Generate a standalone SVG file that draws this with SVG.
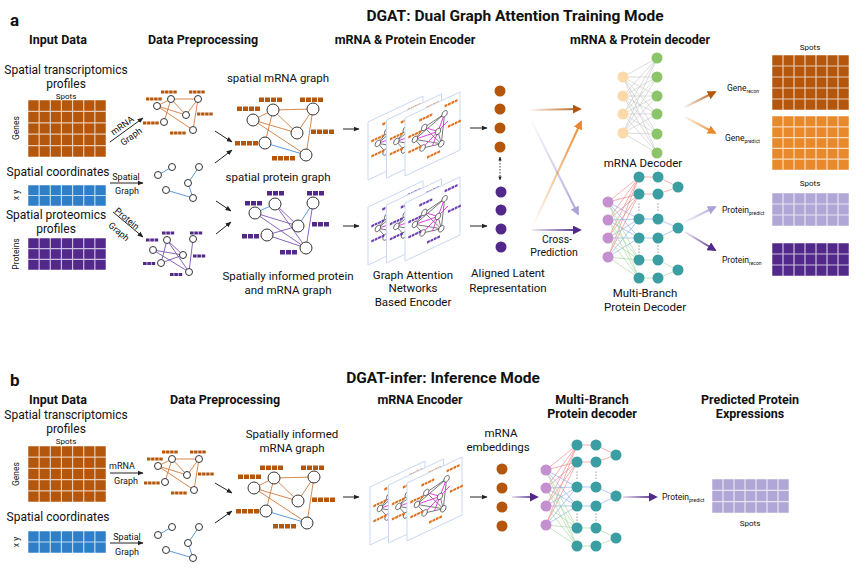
<svg xmlns="http://www.w3.org/2000/svg" width="865" height="571" viewBox="0 0 865 571">
<style>
text{font-family:Roboto,"Liberation Sans",Arial,sans-serif;fill:#111}
.p{font-weight:700;font-size:17px}
.t{font-weight:700;font-size:15.5px;text-anchor:middle}
.h{font-weight:700;font-size:12.5px;text-anchor:middle}
.l{font-size:12px;text-anchor:middle}
.m{font-size:11.5px;text-anchor:middle}
.s{font-size:8px;text-anchor:middle}
.g{font-size:9px;text-anchor:middle}
.r{font-size:8.5px;text-anchor:middle}
.o{font-size:8.5px}
.sub{font-size:5px}
.nd{fill:#fff;stroke:#333;stroke-width:1}
.eo{stroke:#d27b3c;stroke-width:.9;fill:none}
.eb{stroke:#4a8fd8;stroke-width:.9;fill:none}
.ep{stroke:#7c55b6;stroke-width:.9;fill:none}
.ar{stroke:#222;stroke-width:1;fill:none;marker-end:url(#ah)}
.card{fill:#fff;stroke:#c9d8f3;stroke-width:1;vector-effect:non-scaling-stroke}
.ns{vector-effect:non-scaling-stroke}
.cn{fill:#fff;stroke:#444;stroke-width:.8;vector-effect:non-scaling-stroke}
.ca{stroke-width:2;fill:none}
</style>
<defs>
<marker id="ah" viewBox="0 0 10 10" refX="9" refY="5" markerWidth="6" markerHeight="6" orient="auto" markerUnits="userSpaceOnUse"><path d="M0,1L10,5L0,9z" fill="#222"/></marker>
<marker id="ahs" viewBox="0 0 10 10" refX="9" refY="5" markerWidth="4" markerHeight="4" orient="auto-start-reverse" markerUnits="userSpaceOnUse"><path d="M0,1L10,5L0,9z" fill="#222"/></marker>
<marker id="mdo" viewBox="0 0 10 10" refX="8" refY="5" markerWidth="9" markerHeight="9" orient="auto" markerUnits="userSpaceOnUse"><path d="M0,0L10,5L0,10z" fill="#b4560c"/></marker>
<marker id="mo" viewBox="0 0 10 10" refX="8" refY="5" markerWidth="9" markerHeight="9" orient="auto" markerUnits="userSpaceOnUse"><path d="M0,0L10,5L0,10z" fill="#e8892c"/></marker>
<marker id="mla" viewBox="0 0 10 10" refX="8" refY="5" markerWidth="9" markerHeight="9" orient="auto" markerUnits="userSpaceOnUse"><path d="M0,0L10,5L0,10z" fill="#aca2d8"/></marker>
<marker id="mdp" viewBox="0 0 10 10" refX="8" refY="5" markerWidth="9" markerHeight="9" orient="auto" markerUnits="userSpaceOnUse"><path d="M0,0L10,5L0,10z" fill="#52288a"/></marker>
<linearGradient id="gdo1" gradientUnits="userSpaceOnUse" x1="528" y1="110" x2="580" y2="109"><stop offset="0" stop-color="#b4560c" stop-opacity="0"/><stop offset="1" stop-color="#b4560c"/></linearGradient>
<linearGradient id="gla1" gradientUnits="userSpaceOnUse" x1="530" y1="118" x2="578" y2="214"><stop offset="0" stop-color="#aca2d8" stop-opacity="0"/><stop offset="1" stop-color="#aca2d8"/></linearGradient>
<linearGradient id="go1" gradientUnits="userSpaceOnUse" x1="532" y1="228" x2="581" y2="122"><stop offset="0" stop-color="#e8892c" stop-opacity="0"/><stop offset="1" stop-color="#e8892c"/></linearGradient>
<linearGradient id="gdp1" gradientUnits="userSpaceOnUse" x1="532" y1="230" x2="580" y2="230"><stop offset="0" stop-color="#52288a" stop-opacity="0.1"/><stop offset="1" stop-color="#52288a"/></linearGradient>
<linearGradient id="gdo2" gradientUnits="userSpaceOnUse" x1="685" y1="107" x2="715" y2="92"><stop offset="0" stop-color="#b4560c" stop-opacity="0.1"/><stop offset="1" stop-color="#b4560c"/></linearGradient>
<linearGradient id="go2" gradientUnits="userSpaceOnUse" x1="685" y1="117" x2="715" y2="133"><stop offset="0" stop-color="#e8892c" stop-opacity="0.1"/><stop offset="1" stop-color="#e8892c"/></linearGradient>
<linearGradient id="gla2" gradientUnits="userSpaceOnUse" x1="685" y1="222" x2="715" y2="207"><stop offset="0" stop-color="#aca2d8" stop-opacity="0.1"/><stop offset="1" stop-color="#aca2d8"/></linearGradient>
<linearGradient id="gdp2" gradientUnits="userSpaceOnUse" x1="685" y1="232" x2="715" y2="250"><stop offset="0" stop-color="#52288a" stop-opacity="0.1"/><stop offset="1" stop-color="#52288a"/></linearGradient>
<linearGradient id="gdp3" gradientUnits="userSpaceOnUse" x1="512" y1="0" x2="537" y2="0"><stop offset="0" stop-color="#52288a" stop-opacity="0.15"/><stop offset="1" stop-color="#52288a"/></linearGradient>
<linearGradient id="gdp4" gradientUnits="userSpaceOnUse" x1="623" y1="0" x2="656" y2="0"><stop offset="0" stop-color="#52288a" stop-opacity="0.15"/><stop offset="1" stop-color="#52288a"/></linearGradient>
<symbol id="g5" viewBox="0 0 70 50" preserveAspectRatio="none"><rect width="70" height="50"/><path d="M10 0V50M20 0V50M30 0V50M40 0V50M50 0V50M60 0V50M0 10H70M0 20H70M0 30H70M0 40H70" stroke="#fff" stroke-opacity=".7" stroke-width="1.2" vector-effect="non-scaling-stroke"/><rect width="70" height="50" fill="none" stroke="#fff" stroke-opacity=".5" stroke-width="1" vector-effect="non-scaling-stroke"/></symbol>
<symbol id="g3" viewBox="0 0 70 30" preserveAspectRatio="none"><rect width="70" height="30"/><path d="M10 0V30M20 0V30M30 0V30M40 0V30M50 0V30M60 0V30M0 10H70M0 20H70" stroke="#fff" stroke-opacity=".7" stroke-width="1.2" vector-effect="non-scaling-stroke"/><rect width="70" height="30" fill="none" stroke="#fff" stroke-opacity=".5" stroke-width="1" vector-effect="non-scaling-stroke"/></symbol>
<symbol id="g2" viewBox="0 0 70 20" preserveAspectRatio="none"><rect width="70" height="20"/><path d="M10 0V20M20 0V20M30 0V20M40 0V20M50 0V20M60 0V20M0 10H70" stroke="#fff" stroke-opacity=".7" stroke-width="1.2" vector-effect="non-scaling-stroke"/><rect width="70" height="20" fill="none" stroke="#fff" stroke-opacity=".5" stroke-width="1" vector-effect="non-scaling-stroke"/></symbol>
<g id="b4s"><rect width="3.4" height="3"/><rect x="4.1" width="3.4" height="3"/><rect x="8.2" width="3.4" height="3"/><rect x="12.3" width="3.4" height="3"/></g>
<g id="b3s"><rect width="3.6" height="3"/><rect x="4.3" width="3.6" height="3"/><rect x="8.6" width="3.6" height="3"/></g>
<g id="b4L"><rect width="5" height="4.5"/><rect x="6" width="5" height="4.5"/><rect x="12" width="5" height="4.5"/><rect x="18" width="5" height="4.5"/></g>
<g id="b3L"><rect width="5" height="4.5"/><rect x="6" width="5" height="4.5"/><rect x="12" width="5" height="4.5"/></g>
<g id="b4c"><rect width="5" height="4"/><rect x="6.2" width="5" height="4"/><rect x="12.4" width="5" height="4"/><rect x="18.6" width="5" height="4"/></g>
<g id="cardBase">
<rect width="100" height="100" class="card"/>
<path class="ns" d="M72 25L35 32M72 25L66 74M35 32L18 45M18 45L32 66M32 66L66 74M60 50L66 74M35 32L66 74M18 45L66 74M18 45L72 25" stroke="#555" stroke-width=".8" fill="none"/>
<path class="ns" d="M60 50L18 45M60 50L35 32M60 50L32 66M60 50L72 25M60 50L50 70M60 50L78 40" stroke="#e23fe0" stroke-width="1" fill="none"/>
<circle cx="72" cy="25" r="5" class="cn"/><circle cx="35" cy="32" r="5" class="cn"/><circle cx="60" cy="50" r="5" class="cn"/><circle cx="18" cy="45" r="5" class="cn"/><circle cx="32" cy="66" r="5" class="cn"/><circle cx="66" cy="74" r="5" class="cn"/>
</g>
<g id="cardBars"><use href="#b4c" x="72" y="10"/><use href="#b4c" x="26" y="14"/><use href="#b4c" x="6" y="34"/><use href="#b4c" x="78" y="48"/><use href="#b4c" x="6" y="60"/><use href="#b4c" x="40" y="84"/></g>
<g id="pdec">
<path d="M-31 25L0 0M-31 25L0 17M-31 43L0 0M-31 43L0 17M-31 61L0 0M-31 61L0 17M-31 80L0 0M-31 80L0 17M0 0H19M0 17H19M19 0L39 10M19 17L39 10" stroke="#f07b7b" stroke-width=".6" fill="none"/>
<path d="M-31 25L0 42M-31 25L0 61M-31 43L0 42M-31 43L0 61M-31 61L0 42M-31 61L0 61M-31 80L0 42M-31 80L0 61M0 42H19M0 61H19M19 42L39 51M19 61L39 51" stroke="#7ea6ef" stroke-width=".6" fill="none"/>
<path d="M-31 25L0 83M-31 25L0 101M-31 43L0 83M-31 43L0 101M-31 61L0 83M-31 61L0 101M-31 80L0 83M-31 80L0 101M0 83H19M0 101H19M19 83L39 93M19 101L39 93" stroke="#9fd495" stroke-width=".6" fill="none"/>
<g fill="#c490cf"><circle cx="-31" cy="25" r="5.5"/><circle cx="-31" cy="43" r="5.5"/><circle cx="-31" cy="61" r="5.5"/><circle cx="-31" cy="80" r="5.5"/></g>
<g fill="#3a9ea2"><circle cx="0" cy="0" r="5.5"/><circle cx="0" cy="17" r="5.5"/><circle cx="0" cy="42" r="5.5"/><circle cx="0" cy="61" r="5.5"/><circle cx="0" cy="83" r="5.5"/><circle cx="0" cy="101" r="5.5"/><circle cx="19" cy="0" r="5.5"/><circle cx="19" cy="17" r="5.5"/><circle cx="19" cy="42" r="5.5"/><circle cx="19" cy="61" r="5.5"/><circle cx="19" cy="83" r="5.5"/><circle cx="19" cy="101" r="5.5"/><circle cx="39" cy="10" r="5.5"/><circle cx="39" cy="51" r="5.5"/><circle cx="39" cy="93" r="5.5"/></g>
<g fill="#555"><circle cx="0" cy="27" r=".6"/><circle cx="0" cy="30" r=".6"/><circle cx="0" cy="33" r=".6"/><circle cx="19" cy="27" r=".6"/><circle cx="19" cy="30" r=".6"/><circle cx="19" cy="33" r=".6"/><circle cx="0" cy="69" r=".6"/><circle cx="0" cy="72" r=".6"/><circle cx="0" cy="75" r=".6"/><circle cx="19" cy="69" r=".6"/><circle cx="19" cy="72" r=".6"/><circle cx="19" cy="75" r=".6"/></g>
</g>
</defs>
<rect width="865" height="571" fill="#fff"/>

<!-- ================= Panel a ================= -->
<g id="panelA-titles">
<text x="10" y="26" class="p">a</text>
<text x="515" y="21" class="t">DGAT: Dual Graph Attention Training Mode</text>
<text x="58" y="44" class="h">Input Data</text>
<text x="203" y="44" class="h">Data Preprocessing</text>
<text x="405" y="44" class="h">mRNA &amp; Protein Encoder</text>
<text x="640" y="44" class="h">mRNA &amp; Protein decoder</text>
</g>

<g id="a-st">
<text x="66" y="74" class="l">Spatial transcriptomics</text>
<text x="66" y="88" class="l">profiles</text>
<text x="66" y="98.5" class="s">Spots</text>
<use href="#g5" x="28" y="100" width="78" height="57" fill="#b4560c"/>
<text transform="translate(19,128) rotate(-90)" class="r">Genes</text>
</g>
<g id="a-sc">
<text x="58" y="176" class="l">Spatial coordinates</text>
<use href="#g2" x="28" y="185" width="78" height="21" fill="#2f7fc8"/>
<text transform="translate(19,195) rotate(-90)" class="r">x y</text>
</g>
<g id="a-sp">
<text x="56" y="219" class="l">Spatial proteomics</text>
<text x="56" y="233" class="l">profiles</text>
<use href="#g3" x="28" y="238" width="78" height="32" fill="#52288a"/>
<text transform="translate(19,254) rotate(-90)" class="r">Proteins</text>
</g>

<g id="a-small-mrna">
<path class="eo" d="M171 99L198 99M171 99L157 106M157 106L186 115M157 106L193 130M171 99L186 115M198 99L186 115M198 99L193 130M171 99L164 122"/>
<g fill="#b4560c"><use href="#b4s" x="146" y="97.5"/><use href="#b4s" x="161" y="90.5"/><use href="#b4s" x="189" y="90.5"/><use href="#b4s" x="197" y="112.5"/><use href="#b4s" x="143" y="121.5"/><use href="#b4s" x="170" y="131.5"/></g>
<circle cx="171" cy="99" r="3.5" class="nd"/><circle cx="157" cy="106" r="3.5" class="nd"/><circle cx="198" cy="99" r="3.5" class="nd"/><circle cx="186" cy="115" r="3.5" class="nd"/><circle cx="164" cy="122" r="3.5" class="nd"/><circle cx="193" cy="130" r="3.5" class="nd"/>
</g>
<g id="a-small-spatial">
<path class="eb" d="M158 175L172 167M199 167L188 183M188 183L193 198M166 190L193 198"/>
<circle cx="158" cy="175" r="3.5" class="nd"/><circle cx="172" cy="167" r="3.5" class="nd"/><circle cx="199" cy="167" r="3.5" class="nd"/><circle cx="188" cy="183" r="3.5" class="nd"/><circle cx="166" cy="190" r="3.5" class="nd"/><circle cx="193" cy="198" r="3.5" class="nd"/>
</g>
<g id="a-small-protein">
<path class="ep" d="M167 240L183 255M167 240L189 272M153 250L183 255M153 250L189 272M161 263L183 255M193 239L189 272M167 240L161 263"/>
<g fill="#52288a"><use href="#b3s" x="146" y="238.5"/><use href="#b3s" x="162" y="231.5"/><use href="#b3s" x="190" y="231.5"/><use href="#b3s" x="193" y="254.5"/><use href="#b3s" x="143" y="262"/><use href="#b3s" x="170" y="273"/></g>
<circle cx="167" cy="240" r="3.5" class="nd"/><circle cx="193" cy="239" r="3.5" class="nd"/><circle cx="153" cy="250" r="3.5" class="nd"/><circle cx="183" cy="255" r="3.5" class="nd"/><circle cx="161" cy="263" r="3.5" class="nd"/><circle cx="189" cy="272" r="3.5" class="nd"/>
</g>

<g id="a-big-mrna">
<text x="278" y="82" class="m">spatial mRNA graph</text>
<path class="eo" d="M253 120L273 110M273 110L313 109M253 120L297 133M253 120L306 155M273 110L265 143M273 110L297 133M313 109L297 133M313 109L306 155"/>
<path class="eb" d="M265 143L306 155"/>
<g fill="#b4560c"><use href="#b4L" x="237" y="106.5"/><use href="#b4L" x="259" y="97.5"/><use href="#b4L" x="300" y="97.5"/><use href="#b4L" x="311" y="129.5"/><use href="#b4L" x="235" y="141"/><use href="#b4L" x="272" y="156"/></g>
<circle cx="253" cy="120" r="6" class="nd"/><circle cx="273" cy="110" r="6" class="nd"/><circle cx="313" cy="109" r="6" class="nd"/><circle cx="297" cy="133" r="6" class="nd"/><circle cx="265" cy="143" r="6" class="nd"/><circle cx="306" cy="155" r="6" class="nd"/>
</g>
<g id="a-big-protein">
<text x="278" y="181" class="m">spatial protein graph</text>
<path class="eb" d="M255 213L275 204M313 203L298 226"/>
<path class="ep" d="M255 213L298 226M255 213L306 248M275 204L298 226M275 204L306 248M313 203L306 248M267 235L298 226M267 235L306 248"/>
<g fill="#52288a"><use href="#b3L" x="245" y="201"/><use href="#b3L" x="267" y="191"/><use href="#b3L" x="307" y="191"/><use href="#b3L" x="312" y="222"/><use href="#b3L" x="242" y="234"/><use href="#b3L" x="280" y="250"/></g>
<circle cx="255" cy="213" r="6" class="nd"/><circle cx="275" cy="204" r="6" class="nd"/><circle cx="313" cy="203" r="6" class="nd"/><circle cx="298" cy="226" r="6" class="nd"/><circle cx="267" cy="235" r="6" class="nd"/><circle cx="306" cy="248" r="6" class="nd"/>
<text x="288" y="280" class="m">Spatially informed protein</text>
<text x="288" y="294" class="m">and mRNA graph</text>
</g>

<g id="a-encoder-mrna">
<g transform="matrix(0.55,-0.26,0,0.58,368,122)"><use href="#cardBase"/><use href="#cardBars" fill="#e2701c"/></g>
<g transform="matrix(0.55,-0.26,0,0.58,386.5,120)"><use href="#cardBase"/><use href="#cardBars" fill="#e2701c"/></g>
<g transform="matrix(0.55,-0.26,0,0.58,405,118)"><use href="#cardBase"/><use href="#cardBars" fill="#e2701c"/></g>
</g>
<g id="a-encoder-protein">
<g transform="matrix(0.55,-0.26,0,0.58,368,207)"><use href="#cardBase"/><use href="#cardBars" fill="#6b3db5"/></g>
<g transform="matrix(0.55,-0.26,0,0.58,386.5,205)"><use href="#cardBase"/><use href="#cardBars" fill="#6b3db5"/></g>
<g transform="matrix(0.55,-0.26,0,0.58,405,203)"><use href="#cardBase"/><use href="#cardBars" fill="#6b3db5"/></g>
<text x="413" y="279" class="m">Graph Attention</text>
<text x="413" y="292" class="m">Networks</text>
<text x="413" y="306" class="m">Based Encoder</text>
</g>

<g id="a-latent">
<g fill="#b4560c"><circle cx="500" cy="91" r="5.5"/><circle cx="500" cy="109" r="5.5"/><circle cx="500" cy="128" r="5.5"/><circle cx="500" cy="147" r="5.5"/></g>
<g fill="#52288a"><circle cx="501" cy="192" r="5.5"/><circle cx="501" cy="210" r="5.5"/><circle cx="501" cy="229" r="5.5"/><circle cx="501" cy="247" r="5.5"/></g>
<text x="508" y="277" class="m">Aligned Latent</text>
<text x="508" y="292" class="m">Representation</text>
</g>

<g id="a-mrna-decoder">
<path d="M623 77L657 58M623 77L657 77M623 77L657 96M623 77L657 114M623 77L657 134M623 77L657 153M623 96L657 58M623 96L657 77M623 96L657 96M623 96L657 114M623 96L657 134M623 96L657 153M623 114L657 58M623 114L657 77M623 114L657 96M623 114L657 114M623 114L657 134M623 114L657 153M623 133L657 58M623 133L657 77M623 133L657 96M623 133L657 114M623 133L657 134M623 133L657 153" stroke="#c4c4c4" stroke-width=".6" fill="none"/>
<g fill="#fcd9ab"><circle cx="623" cy="77" r="5.5"/><circle cx="623" cy="96" r="5.5"/><circle cx="623" cy="114" r="5.5"/><circle cx="623" cy="133" r="5.5"/></g>
<g fill="#8cc46a"><circle cx="657" cy="58" r="5.5"/><circle cx="657" cy="77" r="5.5"/><circle cx="657" cy="96" r="5.5"/><circle cx="657" cy="114" r="5.5"/><circle cx="657" cy="134" r="5.5"/><circle cx="657" cy="153" r="5.5"/></g>
<text x="643" y="167" class="m">mRNA Decoder</text>
</g>
<g id="a-protein-decoder">
<use href="#pdec" transform="translate(639,177)"/>
<text x="645" y="297" class="m">Multi-Branch</text>
<text x="645" y="311" class="m">Protein Decoder</text>
</g>

<g id="a-outputs">
<text x="727" y="91" class="o">Gene<tspan class="sub" dy="1.5">recon</tspan></text>
<text x="725" y="141" class="o">Gene<tspan class="sub" dy="1.5">predict</tspan></text>
<text x="722" y="213" class="o">Protein<tspan class="sub" dy="1.5">predict</tspan></text>
<text x="722" y="263" class="o">Protein<tspan class="sub" dy="1.5">recon</tspan></text>
<text x="810" y="50" class="s">Spots</text>
<use href="#g5" x="772" y="55" width="77" height="55" fill="#b4560c"/>
<use href="#g5" x="772" y="116" width="77" height="54" fill="#e8892c"/>
<text x="810" y="186" class="s">Spots</text>
<use href="#g3" x="772" y="193" width="77" height="33" fill="#b1a7d6"/>
<use href="#g3" x="772" y="243" width="77" height="33" fill="#52288a"/>
</g>

<g id="a-connectors">
<line x1="110" y1="142" x2="143" y2="118" class="ar"/>
<text transform="translate(124,128) rotate(-36)" class="g">mRNA</text>
<text transform="translate(133,139) rotate(-36)" class="g">Graph</text>
<line x1="110" y1="183" x2="143" y2="183" class="ar"/>
<text x="126" y="179.5" class="g">Spatial</text>
<text x="127" y="193.5" class="g">Graph</text>
<line x1="113" y1="212" x2="143" y2="237" class="ar"/>
<text transform="translate(125,221) rotate(40)" class="g">Protein</text>
<text transform="translate(117,234) rotate(40)" class="g">Graph</text>
<line x1="215" y1="131" x2="232" y2="142" class="ar"/>
<line x1="215" y1="163" x2="232" y2="150" class="ar"/>
<line x1="216" y1="201" x2="231" y2="211" class="ar"/>
<line x1="216" y1="234" x2="231" y2="222" class="ar"/>
<line x1="343" y1="129" x2="359" y2="129" class="ar"/>
<line x1="343" y1="226" x2="359" y2="226" class="ar"/>
<line x1="470" y1="128" x2="487" y2="128" class="ar"/>
<line x1="470" y1="226" x2="487" y2="226" class="ar"/>
<line x1="500" y1="157" x2="500" y2="180" stroke="#222" stroke-width=".9" stroke-dasharray="1.5 1.5" marker-start="url(#ahs)" marker-end="url(#ahs)"/>
<line x1="528" y1="110" x2="580" y2="109" class="ca" stroke="url(#gdo1)" marker-end="url(#mdo)"/>
<line x1="530" y1="118" x2="578" y2="214" class="ca" stroke="url(#gla1)" marker-end="url(#mla)"/>
<line x1="532" y1="228" x2="581" y2="122" class="ca" stroke="url(#go1)" marker-end="url(#mo)"/>
<line x1="532" y1="230" x2="580" y2="230" class="ca" stroke="url(#gdp1)" marker-end="url(#mdp)"/>
<text x="557" y="243" class="m" style="font-size:10.5px">Cross-</text>
<text x="554" y="256" class="m" style="font-size:10.5px">Prediction</text>
<line x1="685" y1="107" x2="715" y2="92" class="ca" stroke="url(#gdo2)" marker-end="url(#mdo)"/>
<line x1="685" y1="117" x2="715" y2="133" class="ca" stroke="url(#go2)" marker-end="url(#mo)"/>
<line x1="685" y1="222" x2="715" y2="207" class="ca" stroke="url(#gla2)" marker-end="url(#mla)"/>
<line x1="685" y1="232" x2="715" y2="250" class="ca" stroke="url(#gdp2)" marker-end="url(#mdp)"/>
</g>

<!-- ================= Panel b ================= -->
<g id="panelB-titles">
<text x="10" y="386" class="p">b</text>
<text x="443" y="383" class="t">DGAT-infer: Inference Mode</text>
<text x="58" y="404" class="h">Input Data</text>
<text x="225" y="404" class="h">Data Preprocessing</text>
<text x="420" y="404" class="h">mRNA Encoder</text>
<text x="592" y="404" class="h">Multi-Branch</text>
<text x="592" y="418" class="h">Protein decoder</text>
<text x="750" y="404" class="h">Predicted Protein</text>
<text x="750" y="418" class="h">Expressions</text>
</g>
<g id="b-st">
<text x="66" y="419" class="l">Spatial transcriptomics</text>
<text x="66" y="433" class="l">profiles</text>
<text x="66" y="443.5" class="s">Spots</text>
<use href="#g5" x="28" y="446" width="78" height="56" fill="#b4560c"/>
<text transform="translate(19,474) rotate(-90)" class="r">Genes</text>
</g>
<g id="b-sc">
<text x="58" y="521" class="l">Spatial coordinates</text>
<use href="#g2" x="28" y="531" width="78" height="22" fill="#2f7fc8"/>
<text transform="translate(19,542) rotate(-90)" class="r">x y</text>
</g>
<g id="b-small-mrna"><use href="#a-small-mrna" transform="translate(1,360)"/></g>
<g id="b-small-spatial"><use href="#a-small-spatial" transform="translate(0,360)"/></g>
<g id="b-big-mrna">
<text x="292" y="438" class="m">Spatially informed</text>
<text x="292" y="452" class="m">mRNA graph</text>
<g transform="translate(1,368)">
<path class="eo" d="M253 120L273 110M273 110L313 109M253 120L297 133M253 120L306 155M273 110L265 143M273 110L297 133M313 109L297 133M313 109L306 155"/>
<path class="eb" d="M265 143L306 155"/>
<g fill="#b4560c"><use href="#b4L" x="237" y="106.5"/><use href="#b4L" x="259" y="97.5"/><use href="#b4L" x="300" y="97.5"/><use href="#b4L" x="311" y="129.5"/><use href="#b4L" x="235" y="141"/><use href="#b4L" x="272" y="156"/></g>
<circle cx="253" cy="120" r="6" class="nd"/><circle cx="273" cy="110" r="6" class="nd"/><circle cx="313" cy="109" r="6" class="nd"/><circle cx="297" cy="133" r="6" class="nd"/><circle cx="265" cy="143" r="6" class="nd"/><circle cx="306" cy="155" r="6" class="nd"/>
</g>
</g>
<g id="b-encoder">
<g transform="matrix(0.55,-0.26,0,0.58,370,487)"><use href="#cardBase"/><use href="#cardBars" fill="#e2701c"/></g>
<g transform="matrix(0.55,-0.26,0,0.58,388.5,485)"><use href="#cardBase"/><use href="#cardBars" fill="#e2701c"/></g>
<g transform="matrix(0.55,-0.26,0,0.58,407,483)"><use href="#cardBase"/><use href="#cardBars" fill="#e2701c"/></g>
</g>
<g id="b-latent">
<text x="501" y="437" class="m">mRNA</text>
<text x="498" y="451" class="m">embeddings</text>
<g fill="#b4560c"><circle cx="502" cy="469" r="5.5"/><circle cx="502" cy="488" r="5.5"/><circle cx="502" cy="507" r="5.5"/><circle cx="502" cy="526" r="5.5"/></g>
</g>
<g id="b-protein-decoder"><use href="#pdec" transform="translate(577,445)"/></g>
<g id="b-output">
<text x="662" y="500" class="o">Protein<tspan class="sub" dy="1.5">predict</tspan></text>
<use href="#g3" x="712" y="479" width="77" height="34" fill="#b1a7d6"/>
<text x="750" y="526" class="s">Spots</text>
</g>
<g id="b-connectors">
<line x1="110" y1="473" x2="143" y2="473" class="ar"/>
<text x="122" y="469" class="g">mRNA</text>
<text x="126" y="483.5" class="g">Graph</text>
<line x1="110" y1="543" x2="143" y2="543" class="ar"/>
<text x="127" y="539.5" class="g">Spatial</text>
<text x="127" y="555" class="g">Graph</text>
<line x1="215" y1="483" x2="232" y2="493" class="ar"/>
<line x1="215" y1="523" x2="232" y2="511" class="ar"/>
<line x1="343" y1="497" x2="359" y2="497" class="ar"/>
<line x1="470" y1="497" x2="487" y2="497" class="ar"/>
<line x1="512" y1="497" x2="537" y2="497" class="ca" stroke="url(#gdp3)" marker-end="url(#mdp)"/>
<line x1="623" y1="497" x2="656" y2="497" class="ca" stroke="url(#gdp4)" marker-end="url(#mdp)"/>
</g>
</svg>
